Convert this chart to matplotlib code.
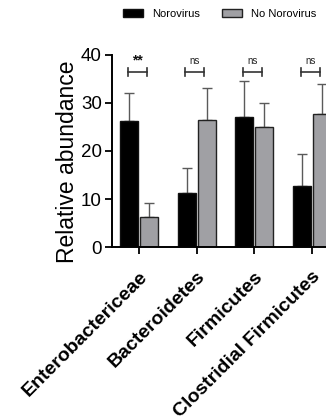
import matplotlib
matplotlib.use("Agg")
import matplotlib.pyplot as plt
import matplotlib.transforms as mtransforms
import numpy as np
from matplotlib.patches import Patch

plt.rcParams['font.family'] = ['Liberation Sans', 'DejaVu Sans']

categories = ["Enterobactericeae", "Bacteroidetes", "Firmicutes", "Clostridial Firmicutes"]
noro_mean = [26.2, 11.2, 27.0, 12.8]
noro_err = [5.9, 5.3, 7.6, 6.6]
nonoro_mean = [6.2, 26.4, 24.9, 27.6]
nonoro_err = [3.0, 6.6, 5.0, 6.3]
significance = ["**", "ns", "ns", "ns"]
series_names = ["Norovirus", "No Norovirus"]
yticks = [0, 10, 20, 30, 40]

fig = plt.figure(figsize=(3.26, 4.20), dpi=100)
ax = fig.add_axes([0.3426, 0.4112, 0.703, 0.459])

x = np.arange(len(categories))
w = 0.31
off = 0.175
black = "#000000"
gray = "#a0a0a4"
ax.bar(x - off, noro_mean, w, color=black, edgecolor="#111111", linewidth=1.0, zorder=2)
ax.bar(x + off, nonoro_mean, w, color=gray, edgecolor="#222222", linewidth=1.0, zorder=2)
ax.errorbar(x - off, noro_mean, yerr=[np.zeros(4), noro_err], fmt="none",
            ecolor="#5a5a5a", elinewidth=1.0, capsize=3.6, capthick=1.0, zorder=1)
ax.errorbar(x + off, nonoro_mean, yerr=[np.zeros(4), nonoro_err], fmt="none",
            ecolor="#5a5a5a", elinewidth=1.0, capsize=3.6, capthick=1.0, zorder=1)

# significance brackets
yb = 36.3
for i, s in enumerate(significance):
    xc = i - 0.03
    x0, x1 = xc - 0.165, xc + 0.165
    ax.plot([x0, x1], [yb, yb], color="#333333", lw=1.2, clip_on=False)
    ax.plot([x0, x0], [yb - 0.8, yb + 0.8], color="#333333", lw=1.2, clip_on=False)
    ax.plot([x1, x1], [yb - 0.8, yb + 0.8], color="#333333", lw=1.2, clip_on=False)
    if s == "**":
        ax.text(xc, yb + 1.0, s, ha="center", va="bottom", fontsize=10, fontweight="bold", color="#111111")
    else:
        ax.text(xc, yb + 1.4, s, ha="center", va="bottom", fontsize=7, color="#222222")

ax.set_xlim(-0.473, 3.5)
ax.set_ylim(0, 40)
ax.set_yticks(yticks)
ax.set_yticklabels([str(t) for t in yticks], fontsize=13.5)
ax.set_xticks(x)
ax.set_xticklabels(categories, rotation=45, ha="right", va="top", rotation_mode="anchor",
                   fontsize=14, fontweight="bold")
shift = mtransforms.ScaledTranslation(-5/100, -6/100, fig.dpi_scale_trans)
for lbl in ax.get_xticklabels():
    lbl.set_transform(lbl.get_transform() + shift)
ax.tick_params(axis="x", length=5, width=1.3, pad=10)
ax.tick_params(axis="y", length=5, width=1.3, pad=2)
ax.spines["top"].set_visible(False)
ax.spines["right"].set_visible(False)
ax.spines["left"].set_linewidth(1.4)
ax.spines["bottom"].set_linewidth(1.4)
fig.text(68/326, 1 - 161.5/420, "Relative abundance", rotation=90, ha="center", va="center", fontsize=16.5)

handles = [Patch(facecolor=black, edgecolor="#111111"), Patch(facecolor=gray, edgecolor="#222222")]
fig.legend(handles, series_names, loc="center", bbox_to_anchor=(220/326, 1 - 14/420),
           ncol=2, frameon=False, fontsize=8, handlelength=1.8, handleheight=0.8,
           columnspacing=2.0, handletextpad=0.8)

fig.savefig("out.png", dpi=100)
